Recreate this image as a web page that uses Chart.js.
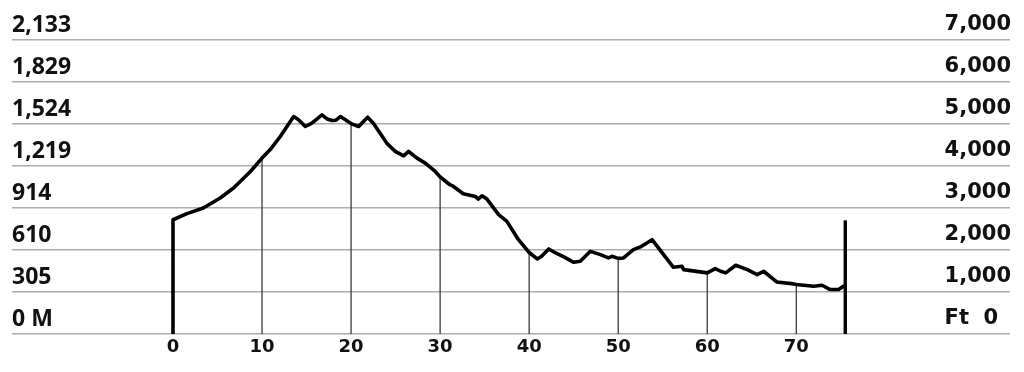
<!DOCTYPE html>
<html>
<head>
<meta charset="utf-8">
<script src="https://cdn.jsdelivr.net/npm/chart.js@4/dist/chart.umd.min.js"></script>
<style>
  html, body { margin: 0; padding: 0; background: #ffffff; }
  #wrap { width: 1024px; height: 372px; }
</style>
</head>
<body>
<div id="wrap"><canvas id="c" width="1024" height="372"></canvas></div>
<script>
// Distance along route (km) and elevation (ft)
const kmPoints = [0, 0, 1.5, 3.4, 5.3, 6.8, 8.7, 10, 10.9, 12.05, 13.55, 14.1, 14.86, 15.6, 16.73, 17.3, 17.86, 18.3, 18.8, 20, 20.85, 21.86, 22.5, 24.0, 24.97, 25.9, 26.46, 27.4, 28.33, 29.45, 30, 30.4, 31.1, 31.5, 32.6, 33.95, 34.3, 34.7, 35.26, 36.57, 37.5, 38.8, 40, 40.9, 41.4, 42.2, 42.96, 43.9, 45.0, 45.74, 46.87, 48.0, 48.9, 49.3, 50, 50.6, 51.7, 52.5, 53.8, 55.1, 56.2, 57.17, 57.35, 60, 60.9, 61.5, 62.07, 63.2, 64.5, 65.6, 66.33, 67.8, 69.7, 70, 71.95, 72.9, 73.8, 74.75, 75.3, 75.5];
const elevFt = [0, 2720, 2860, 3000, 3237, 3475, 3870, 4188, 4386, 4702, 5177, 5099, 4940, 5020, 5218, 5120, 5082, 5090, 5177, 5010, 4940, 5163, 5020, 4545, 4346, 4243, 4346, 4188, 4069, 3870, 3740, 3672, 3554, 3513, 3340, 3276, 3213, 3292, 3213, 2841, 2682, 2246, 1940, 1787, 1850, 2025, 1930, 1835, 1707, 1731, 1968, 1890, 1811, 1850, 1800, 1811, 2009, 2073, 2246, 1890, 1588, 1612, 1533, 1455, 1557, 1494, 1455, 1636, 1533, 1415, 1494, 1240, 1193, 1180, 1137, 1160, 1058, 1058, 1137, 1140];

// Distance markers with drop lines
const markerKm = [10, 20, 30, 40, 50, 60, 70];
const xTickValues = [0, 10, 20, 30, 40, 50, 60, 70];

// Finish marker
const finishKm = 75.5;
const finishTopFt = 2706;

// Axis labels
const feetLabels = ['Ft  0', '1,000', '2,000', '3,000', '4,000', '5,000', '6,000', '7,000'];
const meterLabels = ['0 M', '305', '610', '914', '1,219', '1,524', '1,829', '2,133'];

const profile = kmPoints.map((k, i) => ({ x: k, y: elevFt[i] }));
const elevAt = (km) => elevFt[kmPoints.lastIndexOf(km)];

const dropSets = markerKm.map(k => ({
  data: [{ x: k, y: 0 }, { x: k, y: elevAt(k) }],
  borderColor: '#3a3a3a',
  borderWidth: 1.3,
  pointRadius: 0,
  order: 3
}));

new Chart(document.getElementById('c'), {
  type: 'line',
  data: {
    datasets: [
      {
        data: profile,
        borderColor: '#000000',
        borderWidth: 3.6,
        pointRadius: 0,
        tension: 0,
        borderJoinStyle: 'round',
        borderCapStyle: 'butt',
        order: 0
      },
      {
        data: [{ x: finishKm, y: 0 }, { x: finishKm, y: finishTopFt }],
        borderColor: '#000000',
        borderWidth: 3.4,
        pointRadius: 0,
        order: 1
      },
      ...dropSets
    ]
  },
  options: {
    responsive: false,
    animation: false,
    layout: { padding: { left: 12, right: 14, top: 40, bottom: 0 } },
    plugins: { legend: { display: false }, tooltip: { enabled: false } },
    scales: {
      x: {
        type: 'linear',
        min: -18.08,
        max: 94.0,
        grid: { display: false, drawTicks: false },
        border: { display: false },
        afterBuildTicks: (s) => { s.ticks = xTickValues.map(v => ({ value: v })); },
        afterFit: (s) => { s.height = 38; },
        ticks: {
          padding: 3,
          color: '#111111',
          font: { family: 'DejaVu Sans', size: 18, weight: 'bold' },
          callback: (v) => String(v)
        }
      },
      yL: {
        type: 'linear',
        position: 'left',
        min: 0,
        max: 7000,
        grid: { display: false, drawTicks: false },
        border: { display: false },
        afterFit: (s) => { s.width = 0; },
        ticks: {
          stepSize: 1000,
          mirror: true,
          padding: 0,
          labelOffset: -15,
          color: '#111111',
          font: { family: 'Noto Sans', size: 23, weight: 'bold' },
          callback: (v) => meterLabels[Math.round(v / 1000)]
        }
      },
      y: {
        type: 'linear',
        position: 'right',
        min: 0,
        max: 7000,
        grid: { color: '#acacac', lineWidth: 1.6, drawTicks: false },
        border: { display: false },
        afterFit: (s) => { s.width = 0; },
        ticks: {
          stepSize: 1000,
          mirror: true,
          padding: 1,
          crossAlign: 'far',
          labelOffset: -15,
          color: '#111111',
          font: { family: 'DejaVu Sans', size: 21, weight: 'bold' },
          callback: (v) => feetLabels[Math.round(v / 1000)]
        }
      }
    }
  }
});
</script>
</body>
</html>
